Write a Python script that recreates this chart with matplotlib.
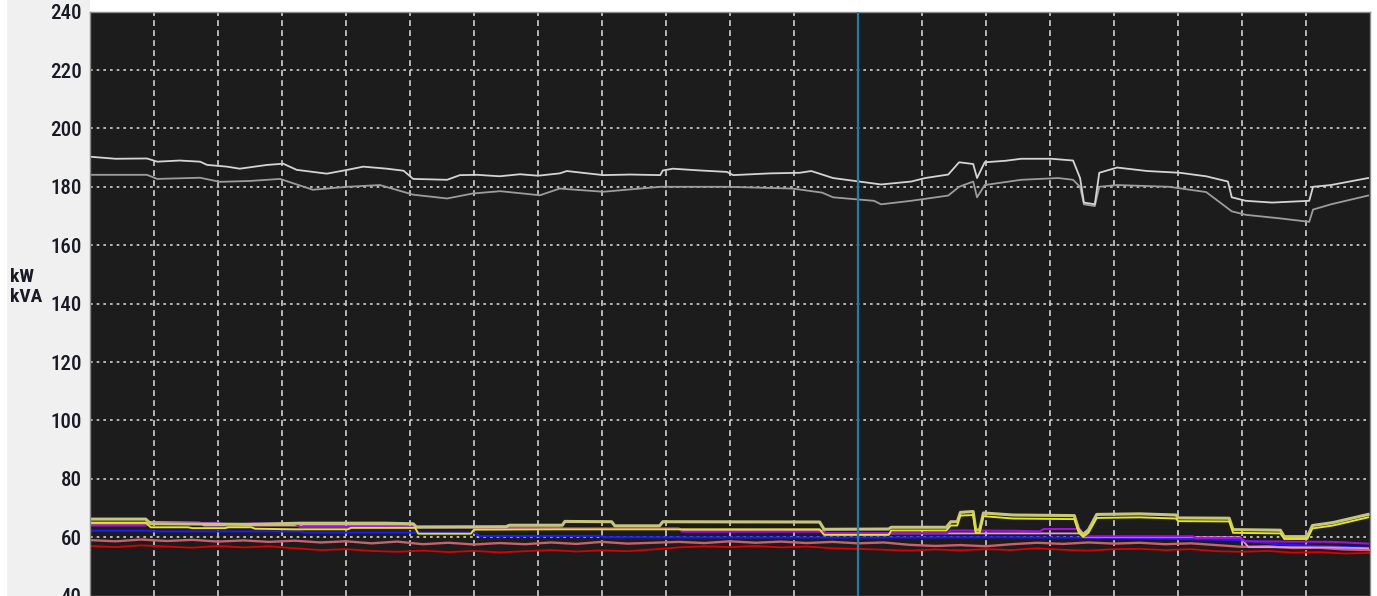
import matplotlib
matplotlib.use("Agg")
import matplotlib.pyplot as plt
import numpy as np
from matplotlib import font_manager
from matplotlib.patches import Rectangle

# time axis in grid divisions (20 divisions across the trace window)
cursor_pos = 12.0

# apparent power, phase A / phase B (kVA)
kva_a_t = [0, 0.4, 0.89, 1.05, 1.4, 1.72, 1.83, 2.14, 2.34, 2.77, 3.02, 3.23, 3.7, 4.02, 4.27,
           4.64, 4.9, 5.05, 5.58, 5.78, 6.05, 6.4, 6.72, 7.0, 7.34, 7.45, 8.02, 8.44, 8.91, 8.95,
           9.11, 9.53, 9.95, 10.05, 10.63, 11.09, 11.27, 11.61, 12.02, 12.36, 12.83, 13.05, 13.41,
           13.58, 13.8, 13.86, 13.98, 14.3, 14.55, 15.02, 15.36, 15.47, 15.53, 15.7, 15.77, 16.05,
           16.52, 17.03, 17.44, 17.78, 17.84, 18.06, 18.47, 19.05, 19.11, 19.39, 19.97]
kva_a = [190.3, 189.6, 189.7, 188.6, 189.0, 188.6, 187.5, 186.9, 186.2, 187.5, 187.9, 185.8, 184.5,
         185.8, 186.9, 186.2, 185.5, 182.7, 182.4, 184.0, 184.1, 183.6, 184.3, 183.8, 184.6, 185.4,
         184.0, 184.2, 184.0, 185.6, 186.2, 185.6, 185.1, 184.0, 184.6, 184.8, 185.4, 183.0, 181.8,
         180.8, 181.8, 183.0, 184.2, 188.4, 187.8, 183.0, 188.4, 188.9, 189.6, 189.6, 189.0, 183.0,
         174.6, 174.0, 184.8, 186.6, 185.4, 184.8, 183.6, 181.8, 176.4, 175.2, 174.6, 175.2, 180.0,
         180.6, 183.0]

kva_b_t = [0, 0.89, 1.05, 1.72, 2.03, 2.5, 2.97, 3.48, 4.02, 4.53, 5.05, 5.58, 5.98, 6.41, 7.03,
           7.34, 8.02, 8.91, 9.95, 10.98, 11.44, 11.61, 12.25, 12.36, 12.83, 13.41, 13.58, 13.8,
           13.86, 13.98, 14.55, 15.13, 15.36, 15.47, 15.53, 15.7, 15.77, 16.05, 16.86, 17.44, 17.84,
           18.06, 18.59, 19.05, 19.11, 19.39, 19.97]
kva_b = [184.1, 184.1, 182.7, 183.1, 181.7, 182.0, 182.7, 179.0, 180.0, 180.6, 177.3, 176.0, 177.7,
         178.5, 177.1, 179.4, 178.3, 180.0, 180.0, 179.4, 178.0, 176.4, 175.2, 174.0, 175.2, 177.0,
         180.0, 181.8, 176.4, 180.6, 182.4, 183.0, 182.4, 180.0, 174.0, 173.4, 180.0, 180.6, 180.0,
         178.2, 171.6, 170.4, 169.2, 168.0, 172.2, 174.0, 177.0]

# per-phase loads (kW / kVA)
khaki_t = [0, 0.87, 0.95, 1.02, 2.5, 3.3, 4.6, 5.05, 5.1, 6.5, 6.55, 7.38, 7.42, 8.15, 8.2, 8.9,
           8.95, 11.4, 11.47, 12.48, 12.52, 13.38, 13.45, 13.55, 13.6, 13.8, 13.84, 13.9, 13.96,
           14.42, 15.38, 15.45, 15.52, 15.6, 15.73, 16.4, 16.97, 17.0, 17.8, 17.86, 18.6, 18.66,
           19.02, 19.1, 19.42, 19.97]
khaki = [66.2, 66.2, 64.6, 64.6, 64.4, 64.8, 64.8, 64.6, 63.5, 63.6, 64.1, 64.1, 65.4, 65.3, 63.9,
         63.9, 65.3, 65.2, 62.7, 62.8, 63.4, 63.4, 65.3, 65.3, 68.5, 68.8, 62.5, 62.5, 68.3, 67.6,
         67.4, 62.5, 61.0, 62.5, 67.8, 68.0, 67.6, 66.6, 66.5, 62.6, 62.4, 60.2, 60.2, 64.0, 65.0,
         67.8]

yellow_t = [0, 0.87, 0.95, 1.53, 1.6, 2.11, 2.16, 2.52, 2.58, 3.2, 4.03, 4.08, 5.08, 5.13, 5.95,
            6.0, 7.34, 9.2, 11.4, 11.47, 12.48, 12.52, 13.38, 13.45, 13.55, 13.6, 13.8, 13.84, 13.9,
            13.96, 14.42, 15.38, 15.45, 15.52, 15.6, 15.73, 16.4, 16.97, 17.0, 17.8, 17.86, 18.6,
            18.66, 19.02, 19.1, 19.42, 19.97]
yellow = [65.0, 65.0, 63.4, 63.4, 63.1, 63.1, 63.4, 63.4, 62.9, 62.7, 62.7, 63.2, 63.2, 61.2, 61.2,
          62.6, 62.7, 62.7, 62.7, 60.8, 60.8, 62.3, 62.3, 64.0, 64.0, 67.4, 67.6, 61.5, 61.5, 67.2,
          66.4, 66.2, 61.5, 60.2, 61.5, 66.6, 66.8, 66.4, 65.5, 65.4, 61.5, 61.3, 59.4, 59.4, 63.0,
          64.0, 66.8]

purple_t = [0, 0.87, 0.94, 2.0, 2.16, 2.52, 3.2, 3.28, 5.1, 5.16, 6.05, 6.09, 9.2, 9.25, 11.45,
            11.5, 13.39, 13.45, 14.42, 14.84, 14.9, 15.47, 15.52, 17.23, 17.28, 17.97, 18.05,
            19.42, 19.97]
purple = [64.0, 64.0, 64.8, 64.9, 64.2, 64.7, 64.7, 63.5, 63.5, 63.6, 63.5, 63.0, 63.0, 61.9, 61.9,
          61.4, 61.4, 62.3, 62.2, 62.0, 62.8, 62.8, 60.3, 60.3, 59.7, 59.7, 58.6, 58.4, 57.8]

pink_t = [0, 0.87, 0.94, 1.02, 1.72, 1.78, 3.28, 3.33, 5.05, 5.1, 7.34, 7.4, 9.2, 9.25, 11.45,
          11.5, 15.47, 15.52, 17.97, 18.1, 19.42, 19.97]
pink = [64.6, 64.6, 65.2, 65.2, 65.0, 64.0, 64.0, 64.3, 64.3, 63.3, 63.3, 63.0, 63.0, 62.2, 62.2,
        61.3, 61.3, 60.0, 60.0, 56.6, 56.5, 56.2]

blue_t = [0, 0.94, 1.0, 3.28, 3.35, 6.0, 6.09, 7.97, 8.05, 12.0, 14.2, 16.0, 17.97, 18.6, 19.42,
          19.97]
blue = [62.2, 62.2, 62.0, 62.0, 61.6, 61.6, 60.4, 60.4, 60.0, 59.9, 60.0, 59.8, 59.0, 57.5, 56.8,
        56.4]

# salmon and red are logged on a regular interval
fine_t = np.linspace(0, 20, 51)
salmon = [59.0, 58.6, 59.2, 58.7, 59.1, 58.5, 58.9, 58.4, 58.8, 58.2,
          58.6, 57.9, 58.5, 57.6, 58.1, 57.5, 58.0, 57.6, 58.2, 57.7,
          58.4, 57.8, 58.1, 58.4, 58.0, 58.6, 58.1, 58.5, 58.0, 58.4,
          57.9, 58.2, 57.4, 57.0, 57.3, 56.9, 57.6, 58.1, 57.7, 58.2,
          57.8, 58.1, 57.6, 57.9, 57.3, 56.7, 56.9, 56.3, 56.4, 55.8, 55.6]
red = [57.0, 56.6, 57.2, 56.8, 56.4, 57.0, 56.5, 56.9, 56.2, 55.6,
       55.9, 55.3, 55.0, 55.4, 54.9, 55.3, 54.8, 55.2, 55.6, 55.1,
       55.5, 55.2, 55.8, 56.5, 56.9, 56.6, 57.0, 56.5, 56.8, 56.2,
       56.0, 55.7, 55.4, 55.8, 55.5, 55.9, 55.6, 56.2, 55.7, 55.4,
       55.9, 56.0, 55.6, 55.9, 55.2, 55.0, 55.3, 54.7, 54.9, 54.4, 54.6]

y_ticks = [40, 60, 80, 100, 120, 140, 160, 180, 200, 220, 240]


def narrow_font():
    # prefer a narrow sans face for the axis labels when one is installed
    names = sorted({f.name for f in font_manager.fontManager.ttflist})
    for want in ("Liberation Sans Narrow", "Arial Narrow", "Roboto Condensed",
                 "Open Sans Condensed", "DejaVu Sans Condensed"):
        if want in names:
            return want, "normal"
    return "DejaVu Sans", "condensed"


label_family, label_stretch = narrow_font()

fig = plt.figure(figsize=(13.77, 5.96), dpi=100, facecolor="white")
fig.patches.append(Rectangle((7 / 1377, 0), 83 / 1377, 1, transform=fig.transFigure,
                             facecolor="#f0f0f0", edgecolor="none", zorder=-5))

ax = fig.add_axes([90 / 1377, 0.4 / 596, 1280 / 1377, 584 / 596])
ax.set_facecolor("#1c1c1c")

ax.plot(fine_t, red, color="#dd0000", lw=1.3)
ax.plot(fine_t, salmon, color="#c8606e", lw=1.7)
ax.plot(blue_t, blue, color="#1a1aff", lw=1.5)
ax.plot(pink_t, pink, color="#f08cf0", lw=1.3)
ax.plot(purple_t, purple, color="#a010e0", lw=1.5)
ax.plot(khaki_t, khaki, color="#c6c67a", lw=2.2)
ax.plot(yellow_t, yellow, color="#e6e61a", lw=1.4)
ax.plot(kva_b_t, kva_b, color="#9c9c9c", lw=1.3)
ax.plot(kva_a_t, kva_a, color="#d4d4d4", lw=1.3)

ax.axvline(cursor_pos, color="#1f7fa3", lw=1.6, zorder=5)

ax.set_xlim(0, 20)
ax.set_ylim(40, 240)
ax.set_yticks(y_ticks)
ax.set_yticklabels([str(v) for v in y_ticks], family=label_family, stretch=label_stretch,
                   fontsize=15, fontweight="medium", color="#1a1a26")
ax.set_xticks(np.arange(1, 20))
ax.tick_params(axis="x", length=0, labelbottom=False)
ax.tick_params(axis="y", length=0, pad=6)

for yv in y_ticks[1:-1]:
    ax.axhline(yv, color="#cfcfcf", lw=1.2, linestyle=(0, (1.6, 2.4)), zorder=1)
for xv in range(1, 20):
    ax.axvline(xv, color="#cfcfcf", lw=1.2, linestyle=(0, (3.5, 2.5)), zorder=1)

for side in ("left", "right", "top", "bottom"):
    ax.spines[side].set_color("#8a8a8a")
    ax.spines[side].set_linewidth(1.0)

fig.text(10 / 1377, 1 - 287 / 596, "kW\nkVA", ha="left", va="center", fontsize=14,
         fontweight="bold", family=label_family, stretch=label_stretch, color="#1a1a26",
         linespacing=1.15)

fig.savefig("out.png", dpi=100, facecolor=fig.get_facecolor())
